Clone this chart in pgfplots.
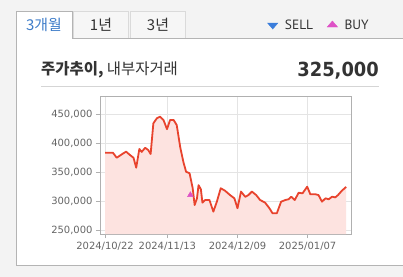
\documentclass[border=0pt]{standalone}
\usepackage{fontspec}
\setmainfont{Liberation Sans}
\newfontfamily\kr{Noto Sans CJK KR}
\newfontfamily\dv{DejaVu Sans}
\newfontfamily\pt{PT Sans}
\usepackage{pgfplots}
\pgfplotsset{compat=1.18}
\definecolor{bg}{HTML}{F3F3F3}
\definecolor{panelborder}{HTML}{B4B4B4}
\definecolor{tabborder}{HTML}{DADADA}
\definecolor{tabfill}{HTML}{F6F6F6}
\definecolor{tabblue}{HTML}{3D7CC9}
\definecolor{textdark}{HTML}{333333}
\definecolor{sepgray}{HTML}{D5D5D5}
\definecolor{framegray}{HTML}{B0B0B0}
\definecolor{gridgray}{HTML}{E4E4E4}
\definecolor{labelgray}{HTML}{666666}
\definecolor{linered}{HTML}{E8432D}
\definecolor{fillpink}{HTML}{FDE3E0}
\definecolor{sellblue}{HTML}{3A7DDB}
\definecolor{buypink}{HTML}{DE52C6}

\pgfplotstableread{
x v
0 383700
2.0 383700
3.0 375000
4.7 382600
5.4 385400
6.4 379700
7.3 375000
8.0 358000
8.8 390000
9.4 385000
10.3 392000
11.1 388000
11.7 381400
12.4 434000
13.3 442600
14.1 445400
15.0 439700
15.9 424000
16.7 439700
17.6 439700
18.4 431000
19.3 393000
20.1 368000
20.8 351000
21.7 348400
22.5 322700
23.0 294000
23.6 305500
24.0 328000
24.6 321000
25.0 298000
25.7 302600
26.8 302600
27.8 282600
28.7 299700
29.7 322700
30.8 318500
32.1 311000
33.2 305500
34.0 288400
34.9 317000
36.0 308000
36.8 311000
37.7 317000
38.8 311000
39.8 302600
41.1 298000
42.2 288400
43.0 279800
44.1 279800
45.2 299700
46.3 302600
47.1 303800
47.8 308300
48.7 302600
49.7 315000
50.7 314000
51.9 325400
52.7 312400
54.0 312400
54.8 311000
55.7 299700
56.6 305500
57.4 303800
58.3 308300
59.1 307000
59.8 311000
60.8 318500
61.9 325000
}\price

\pgfplotstableread{
x v
21.9 311200
}\buy

\begin{document}
\begin{tikzpicture}
\path[use as bounding box, fill=bg] (0,0) rectangle (403bp,-277bp);
% inactive tabs
\filldraw[fill=tabfill, draw=tabborder, line width=1bp] (73.5bp,-37.5bp) -- (73.5bp,-11.5bp) -- (128.5bp,-11.5bp) -- (128.5bp,-37.5bp);
\filldraw[fill=tabfill, draw=tabborder, line width=1bp] (130.5bp,-37.5bp) -- (130.5bp,-11.5bp) -- (185.5bp,-11.5bp) -- (185.5bp,-37.5bp);
% panel
\fill[white] (16.5bp,-38.5bp) rectangle (420bp,-265.5bp);
\draw[panelborder, line width=1bp] (420bp,-38.5bp) -- (72bp,-38.5bp);
\draw[panelborder, line width=1bp] (16.5bp,-38.5bp) -- (16.5bp,-265.5bp) -- (420bp,-265.5bp);
% active tab
\fill[white] (16.5bp,-11.5bp) rectangle (72bp,-39bp);
\draw[panelborder, line width=1bp] (16.5bp,-39bp) -- (16.5bp,-11.5bp) -- (72bp,-11.5bp) -- (72bp,-38.5bp);
\node[text=tabblue, inner sep=0pt] at (44bp,-25bp) {\kr\fontsize{15}{15}\selectfont 3개월};
\node[text=textdark, inner sep=0pt] at (101bp,-25bp) {\kr\fontsize{15}{15}\selectfont 1년};
\node[text=textdark, inner sep=0pt] at (158bp,-25bp) {\kr\fontsize{15}{15}\selectfont 3년};
% header
\node[text=textdark, inner sep=0pt, anchor=west] at (41bp,-69.7bp) {\kr\fontsize{15.5}{15.5}\selectfont\bfseries 주가추이,\mdseries\ 내부자거래};
\node[text=textdark, inner sep=0pt, anchor=base east] at (379bp,-76bp) {\scalebox{0.92}[1]{\dv\fontsize{19.5}{19.5}\selectfont\bfseries 325,000}};
\draw[sepgray, line width=1bp] (41bp,-86.5bp) -- (379bp,-86.5bp);

\begin{axis}[
  at={(100bp,-234bp)}, anchor=south west,
  width=252bp, height=138bp, scale only axis,
  xmin=-1.3, xmax=63.4, ymin=244300, ymax=480800,
  scaled y ticks=false,
  xtick={0,16,34,52},
  xticklabels={2024/10/22,2024/11/13,2024/12/09,2025/01/07},
  ytick={250000,300000,350000,400000,450000},
  yticklabels={{250,000},{300,000},{350,000},{400,000},{450,000}},
  grid=major, major grid style={draw=gridgray, line width=0.8bp},
  axis line style={draw=framegray, line width=1bp},
  axis background/.style={fill=white},
  tick align=outside, tick pos=left, major tick length=4bp,
  tick style={draw=framegray, line width=0.8bp},
  tick label style={font=\dv\fontsize{10}{10}\selectfont, text=labelgray},
  xticklabel style={yshift=-1bp},
  legend style={draw=none, fill=none, at={(1.075,1.5145)}, anchor=east,
    font=\pt\fontsize{13.5}{13.5}\selectfont, text=textdark, inner sep=0pt,
    /tikz/every odd column/.append style={column sep=5bp},
    /tikz/every even column/.append style={column sep=12bp}},
  legend columns=2,
]
\addlegendimage{only marks, mark=triangle*, mark size=4bp, mark options={rotate=180, xscale=1.5, fill=sellblue, draw=sellblue}}
\addlegendentry{SELL}
\addlegendimage{only marks, mark=triangle*, mark size=4bp, mark options={xscale=1.5, fill=buypink, draw=buypink}}
\addlegendentry{BUY}
\addplot[fill=fillpink, draw=none, forget plot] table[x=x,y=v]{\price} \closedcycle;
\addplot[linered, line width=1.8bp, line join=round, forget plot] table[x=x,y=v]{\price};
\addplot[only marks, mark=triangle*, mark size=3.3bp, mark options={fill=buypink, draw=buypink}, forget plot] table[x=x,y=v]{\buy};
\end{axis}
\end{tikzpicture}
\end{document}
